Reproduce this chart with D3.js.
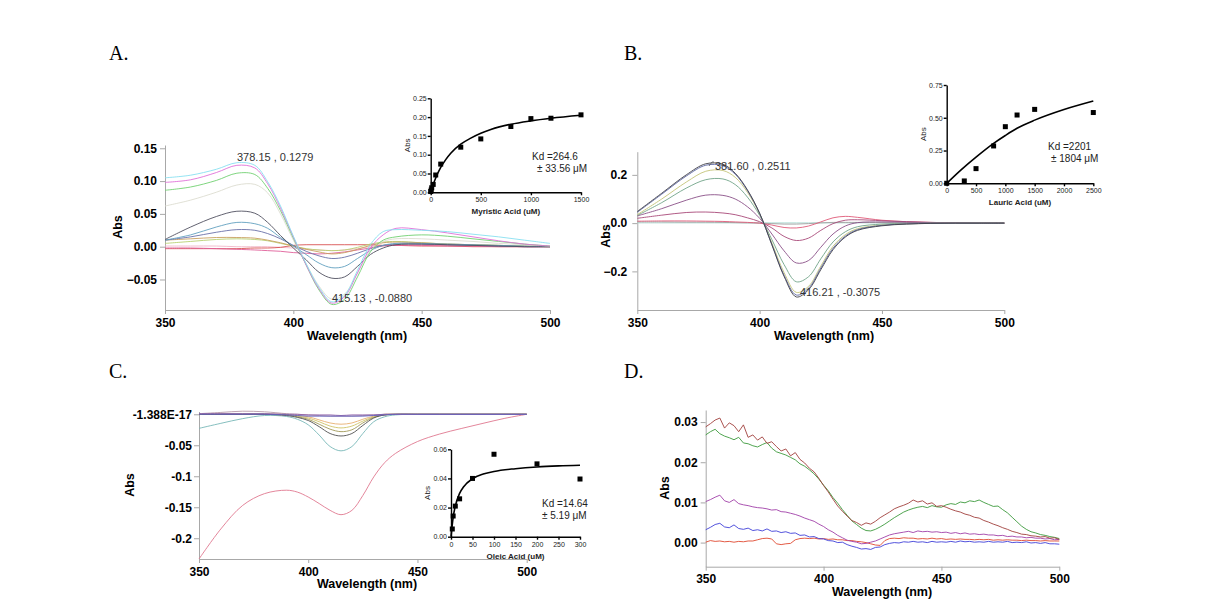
<!DOCTYPE html>
<html><head><meta charset="utf-8">
<script src="https://cdn.jsdelivr.net/npm/d3@7"></script>
<style>
body{margin:0;background:#fff;}
svg text{font-family:"Liberation Sans",Arial,sans-serif;}
</style></head>
<body>
<svg id="c" width="1218" height="616"></svg>
<script>
// ---------- DATA ----------
const wlAB = [350,360,370,378,385,390,395,400,405,410,415,420,425,430,435,440,450,460,470,480,490,500];
// Panel A spectra (Myristic acid titration)
const aCyan   = [0.105,0.109,0.118,0.128,0.124,0.099,0.062,0.016,-0.026,-0.062,-0.084,-0.074,-0.036,0.003,0.023,0.026,0.025,0.023,0.019,0.015,0.010,0.005];
const aMagenta= [0.098,0.102,0.113,0.124,0.120,0.096,0.059,0.015,-0.028,-0.064,-0.086,-0.076,-0.040,-0.002,0.018,0.028,0.026,0.021,0.015,0.009,0.004,0.001];
const aGreen  = [0.086,0.091,0.101,0.112,0.110,0.089,0.055,0.013,-0.028,-0.066,-0.088,-0.080,-0.046,-0.008,0.010,0.015,0.018,0.016,0.012,0.008,0.004,0.001];
const aPale   = [0.062,0.071,0.083,0.094,0.095,0.082,0.050,0.010,-0.026,-0.060,-0.080,-0.072,-0.040,-0.006,0.008,0.012,0.012,0.010,0.008,0.005,0.003,0.001];
const aBlack  = [0.011,0.030,0.046,0.054,0.051,0.037,0.017,-0.002,-0.020,-0.039,-0.048,-0.046,-0.030,-0.012,-0.002,0.003,0.004,0.003,0.002,0.001,0.000,0.000];
const aTeal   = [0.010,0.018,0.030,0.037,0.035,0.028,0.014,0.001,-0.012,-0.025,-0.032,-0.030,-0.018,-0.006,0.002,0.005,0.005,0.004,0.003,0.002,0.001,0.000];
const aSlate  = [0.010,0.015,0.022,0.026,0.025,0.020,0.012,0.002,-0.007,-0.014,-0.018,-0.016,-0.010,-0.003,0.002,0.004,0.004,0.003,0.002,0.001,0.000,0.000];
const aOlive  = [0.010,0.012,0.014,0.014,0.013,0.010,0.006,0.001,-0.004,-0.008,-0.011,-0.009,-0.004,0.002,0.006,0.007,0.006,0.004,0.003,0.002,0.001,0.000];
const aYGreen = [0.005,0.008,0.011,0.012,0.011,0.009,0.005,0.001,-0.003,-0.005,-0.006,-0.005,-0.001,0.004,0.007,0.008,0.006,0.004,0.003,0.002,0.001,0.000];
const aPink   = [-0.002,-0.002,-0.003,-0.004,-0.005,-0.006,-0.007,-0.009,-0.010,-0.011,-0.010,-0.008,-0.005,-0.002,0.001,0.002,0.002,0.001,0.001,0.000,0.000,0.000];
const aRed    = [-0.003,-0.003,-0.003,-0.003,-0.002,-0.002,-0.001,0.002,0.003,0.003,0.003,0.003,0.003,0.003,0.002,0.002,0.001,0.001,0.000,0.000,0.000,0.000];
const aLtPink = [0.001,0.001,0.001,0.000,0.000,0.000,-0.001,-0.002,-0.004,-0.005,-0.006,-0.005,-0.003,0.000,0.002,0.003,0.003,0.002,0.001,0.001,0.000,0.000];
// Panel A inset (Myristic acid binding)
const myrX   = [0,5,10,25,50,100,300,500,800,1000,1200,1500];
const myrAbs = [0.002,0.006,0.012,0.021,0.046,0.075,0.120,0.142,0.175,0.196,0.197,0.206];
const myrFitX = [0,25,50,100,150,200,300,400,500,600,800,1000,1200,1500];
const myrFitY = [0,0.021,0.038,0.066,0.087,0.104,0.128,0.144,0.157,0.167,0.181,0.190,0.197,0.205];

// Panel B spectra (Lauric acid titration)
const bBlack  = [0.048,0.124,0.200,0.246,0.244,0.207,0.138,0.041,-0.090,-0.221,-0.306,-0.276,-0.193,-0.110,-0.058,-0.030,-0.011,-0.004,-0.001,0,0,0];
const bBlue   = [0.045,0.120,0.195,0.240,0.238,0.203,0.135,0.040,-0.088,-0.216,-0.298,-0.270,-0.186,-0.104,-0.054,-0.027,-0.009,-0.003,-0.001,0,0,0];
const bYellow = [0.035,0.100,0.170,0.215,0.218,0.190,0.128,0.038,-0.082,-0.205,-0.287,-0.262,-0.178,-0.096,-0.048,-0.023,-0.008,-0.003,-0.001,0,0,0];
const bGreen  = [0.032,0.085,0.145,0.180,0.183,0.160,0.108,0.032,-0.068,-0.172,-0.243,-0.222,-0.148,-0.078,-0.036,-0.015,-0.004,-0.001,0,0,0,0];
const bPurple = [0.030,0.060,0.095,0.116,0.115,0.100,0.068,0.020,-0.045,-0.115,-0.165,-0.155,-0.100,-0.045,-0.012,0.002,0.005,0.004,0.002,0.001,0,0];
const bMagenta= [0.020,0.033,0.044,0.046,0.042,0.035,0.022,0.006,-0.020,-0.055,-0.072,-0.062,-0.030,-0.002,0.012,0.014,0.010,0.006,0.003,0.001,0,0];
const bRed    = [0.008,0.009,0.009,0.008,0.007,0.005,0.003,0.000,-0.008,-0.018,-0.020,-0.012,0.005,0.022,0.028,0.024,0.012,0.006,0.003,0.001,0,0];
const bGray   = [0.005,0.005,0.004,0.004,0.003,0.002,0.001,0.000,-0.002,-0.004,-0.004,-0.002,0.001,0.003,0.003,0.003,0.002,0.001,0.001,0,0,0];
const bCyan   = [0.001,0.001,0.001,0.001,0.001,0.001,0.001,0.001,0.001,0.001,0.001,0.001,0.001,0.001,0.001,0.001,0.001,0.001,0.001,0.001,0.001,0.001];
// Panel B inset (Lauric acid binding)
const lauX   = [0,300,500,800,1000,1200,1500,2500];
const lauAbs = [0,0.018,0.112,0.285,0.432,0.521,0.564,0.540];
const lauFitX = [0,250,500,800,1000,1200,1500,2000,2500];
const lauFitY = [0,0.105,0.200,0.305,0.365,0.420,0.482,0.563,0.628];

// Panel C spectra (Oleic acid titration)
const wlC = [350,360,370,380,390,395,400,405,410,415,420,425,430,435,440,450,460,470,480,490,500];
const cRed    = [-0.2335,-0.185,-0.147,-0.128,-0.1225,-0.1255,-0.1335,-0.144,-0.155,-0.162,-0.155,-0.131,-0.101,-0.078,-0.063,-0.044,-0.032,-0.023,-0.0146,-0.0065,0];
const cTeal   = [-0.0227,-0.0146,-0.007,-0.002,-0.0035,-0.008,-0.017,-0.0335,-0.052,-0.059,-0.052,-0.031,-0.012,-0.004,-0.001,0,0,0,0,0,0];
const cBlack  = [0,0,0,0,-0.002,-0.005,-0.010,-0.020,-0.031,-0.035,-0.031,-0.018,-0.006,-0.001,0,0,0,0,0,0,0];
const cOlive  = [0,0,0,0,-0.001,-0.004,-0.008,-0.016,-0.024,-0.028,-0.025,-0.014,-0.005,-0.001,0,0,0,0,0,0,0];
const cYellow = [0,0,0,0,-0.001,-0.003,-0.006,-0.012,-0.019,-0.022,-0.019,-0.011,-0.004,-0.001,0,0,0,0,0,0,0];
const cOrange = [0,0,0,0,0,-0.002,-0.004,-0.009,-0.014,-0.016,-0.014,-0.008,-0.003,0,0,0,0,0,0,0,0];
const cPink   = [0.001,0.003,0.005,0.004,0.001,0.000,-0.001,-0.002,-0.003,-0.003,-0.003,-0.002,-0.001,0,0,0,0,0,0,0,0];
const cBlue   = [0,0,0,0,-0.001,-0.002,-0.003,-0.003,-0.003,-0.003,-0.003,-0.003,-0.002,-0.001,0,0,0,0,0,0,0];
const cPurple = [0.001,0.001,0.001,0.001,0,0,-0.001,-0.001,-0.001,-0.002,-0.001,-0.001,-0.001,0,0,0,0,0,0,0,0];
// Panel C inset (Oleic acid binding)
const oleX   = [3,5,10,20,50,100,200,300];
const oleAbs = [0.0053,0.0142,0.021,0.026,0.040,0.0566,0.050,0.0396];
const oleFitX = [0,5,10,20,30,50,75,100,150,200,250,300];
const oleFitY = [0,0.0133,0.021,0.0297,0.0345,0.0398,0.043,0.0448,0.0467,0.0479,0.0486,0.049];

// Panel D spectra (noisy, 2 nm sampling 350..500)
const wlD = d3.range(350, 501, 2);
const dMaroon = [.0288,.0296,.0305,.0310,.0285,.0298,.0291,.0276,.0293,.0262,
 .0268,.0255,.0263,.0247,.0251,.0239,.0228,.0233,.0216,.0224,
 .0207,.0198,.0185,.0176,.0160,.0142,.0126,.0108,.0091,.0078,
 .0066,.0055,.0050,.0043,.0049,.0046,.0053,.0062,.0069,.0076,
 .0084,.0089,.0093,.0098,.0106,.0101,.0104,.0096,.0099,.0090,
 .0092,.0088,.0083,.0079,.0076,.0071,.0068,.0063,.0061,.0055,
 .0051,.0046,.0042,.0037,.0033,.0028,.0025,.0021,.0020,.0017,
 .0016,.0014,.0015,.0011,.0012,.0008];
const dGreen = [.0268,.0276,.0282,.0271,.0265,.0261,.0256,.0262,.0248,.0246,
 .0241,.0238,.0244,.0249,.0235,.0226,.0222,.0218,.0212,.0206,
 .0196,.0190,.0181,.0171,.0158,.0143,.0129,.0112,.0098,.0082,
 .0068,.0054,.0045,.0036,.0030,.0029,.0033,.0039,.0046,.0054,
 .0062,.0069,.0076,.0081,.0085,.0088,.0090,.0087,.0092,.0089,
 .0088,.0094,.0097,.0095,.0101,.0099,.0104,.0102,.0106,.0100,
 .0095,.0090,.0091,.0082,.0074,.0063,.0052,.0041,.0033,.0027,
 .0024,.0020,.0018,.0015,.0013,.0010];
const dPurple = [.0102,.0107,.0113,.0118,.0104,.0100,.0107,.0097,.0094,.0092,
 .0089,.0087,.0086,.0084,.0081,.0082,.0077,.0076,.0073,.0070,
 .0066,.0061,.0057,.0053,.0046,.0040,.0032,.0026,.0018,.0012,
 .0006,.0003,.0001,-.0003,-.0002,.0001,.0004,.0009,.0014,.0019,
 .0022,.0024,.0026,.0028,.0025,.0029,.0027,.0028,.0026,.0027,
 .0025,.0026,.0023,.0025,.0022,.0024,.0021,.0022,.0020,.0021,
 .0019,.0019,.0017,.0018,.0015,.0016,.0014,.0014,.0012,.0013,
 .0011,.0011,.0009,.0010,.0007,.0008];
const dBlue = [.0032,.0038,.0045,.0048,.0039,.0037,.0044,.0035,.0033,.0036,
 .0030,.0032,.0029,.0034,.0028,.0029,.0025,.0027,.0023,.0024,
 .0018,.0019,.0014,.0015,.0010,.0009,.0005,.0004,.0000,.0001,
 -.0005,-.0009,-.0012,-.0016,-.0015,-.0017,-.0012,-.0011,-.0005,-.0002,
 .0000,-.0001,.0002,.0001,.0003,.0001,.0002,.0000,.0003,.0001,
 .0002,.0001,.0003,.0001,.0004,.0002,.0003,.0001,.0002,.0001,
 .0003,.0001,.0002,.0001,.0003,.0000,.0001,.0000,.0002,-.0001,
 .0000,-.0002,.0000,-.0003,-.0003,-.0004];
const dRed = [.0001,.0005,.0003,.0004,.0002,.0003,.0001,.0003,.0002,.0004,
 .0004,.0007,.0010,.0011,.0009,-.0003,-.0005,-.0003,-.0002,.0007,
 .0010,.0011,.0010,.0011,.0009,.0010,.0008,.0009,.0007,.0007,
 .0005,.0005,.0003,.0002,.0000,-.0003,-.0006,-.0007,.0005,.0010,
 .0011,.0010,.0012,.0011,.0011,.0009,.0010,.0009,.0011,.0009,
 .0010,.0008,.0009,.0008,.0009,.0008,.0008,.0007,.0008,.0007,
 .0008,.0006,.0007,.0006,.0007,.0006,.0006,.0005,.0006,.0005,
 .0005,.0004,.0005,.0004,.0004,.0004];

// Tick labels
const wlTicks = [350,400,450,500];
const aYTicks = [-0.05,0,0.05,0.10,0.15];
const bYTicks = [-0.2,0,0.2];
const cYTicks = [0,-0.05,-0.1,-0.15,-0.2];
const cYLabels = ["-1.388E-17","-0.05","-0.1","-0.15","-0.2"];
const dYTicks = [0,0.01,0.02,0.03];

// ---------- DRAWING ----------
const svg = d3.select("#c");
const AXC = "#a8a8a8";

function mainAxes(o){
  const x = d3.scaleLinear().domain([350,500]).range(o.xr);
  const y = d3.scaleLinear().domain(o.yd).range(o.yr);
  const g = svg.append("g");
  const xa = g.append("g").attr("transform",`translate(0,${o.yr[0]})`)
    .call(d3.axisBottom(x).tickValues(wlTicks).tickSize(4).tickPadding(4).tickSizeOuter(0));
  const ya = g.append("g").attr("transform",`translate(${o.xr[0]},0)`)
    .call(d3.axisLeft(y).tickValues(o.yt).tickFormat(o.yf).tickSize(5).tickPadding(o.yp||3).tickSizeOuter(0));
  [xa,ya].forEach(a=>{
    a.selectAll("path,line").attr("stroke",AXC).attr("stroke-width",1);
    a.selectAll("text").attr("fill","#000").style("font-size","12px").style("font-weight","bold");
  });
  g.append("text").attr("x",o.xl[0]).attr("y",o.xl[1]).attr("text-anchor","middle")
    .style("font-size","12.5px").style("font-weight","bold").text("Wavelength (nm)");
  g.append("text").attr("transform",`translate(${o.yl[0]},${o.yl[1]}) rotate(-90)`).attr("text-anchor","middle")
    .style("font-size","12.5px").style("font-weight","bold").text("Abs");
  return {x,y,g};
}
function drawLines(p, wl, series, curve){
  const line = d3.line().x((d,i)=>p.x(wl[i])).y(d=>p.y(d)).curve(curve||d3.curveCatmullRom);
  series.forEach(s=>{
    p.g.append("path").attr("d",line(s[0])).attr("fill","none").attr("stroke",s[1]).attr("stroke-width",s[2]||0.9);
  });
}
function inset(o){
  const x = d3.scaleLinear().domain(o.xd).range(o.xr);
  const y = d3.scaleLinear().domain(o.yd).range(o.yr);
  const g = svg.append("g");
  const xa = g.append("g").attr("transform",`translate(0,${o.yr[0]})`)
    .call(d3.axisBottom(x).tickValues(o.xt).tickFormat(d3.format("d")).tickSize(3).tickPadding(2).tickSizeOuter(0));
  const ya = g.append("g").attr("transform",`translate(${o.xr[0]},0)`)
    .call(d3.axisLeft(y).tickValues(o.yt).tickFormat(d3.format(".2f")).tickSize(3).tickPadding(1).tickSizeOuter(0));
  [xa,ya].forEach(a=>{
    a.selectAll("path,line").attr("stroke","#000").attr("stroke-width",1.4);
    a.selectAll("text").attr("fill","#222").style("font-size","7px");
  });
  g.append("text").attr("x",(o.xr[0]+o.xr[1])/2).attr("y",o.yr[0]+22).attr("text-anchor","middle")
    .style("font-size","8px").style("font-weight","bold").attr("fill","#222").text(o.xlab);
  g.append("text").attr("transform",`translate(${o.xr[0]-21},${(o.yr[0]+o.yr[1])/2}) rotate(-90)`).attr("text-anchor","middle")
    .style("font-size","8px").attr("fill","#222").text("Abs");
  const fit = d3.line().x((d,i)=>x(o.fx[i])).y(d=>y(d)).curve(d3.curveMonotoneX);
  g.append("path").attr("d",fit(o.fy)).attr("fill","none").attr("stroke","#000").attr("stroke-width",1.6);
  g.selectAll("rect.pt").data(o.py).enter().append("rect")
    .attr("x",(d,i)=>x(o.px[i])-2.5).attr("y",d=>y(d)-2.5).attr("width",5).attr("height",5).attr("fill","#000");
  g.append("text").attr("x",o.kd[0]).attr("y",o.kd[1]).style("font-size","10px").attr("fill","#222").text(o.kd[2]);
  g.append("text").attr("x",o.kd[3]).attr("y",o.kd[1]+12).style("font-size","10px").attr("fill","#222").text(o.kd[4]);
}
function letter(t,x,y){
  svg.append("text").attr("x",x).attr("y",y).style("font-family","'Liberation Serif','DejaVu Serif',serif")
    .style("font-size","20px").attr("fill","#000").text(t);
}

// ----- Panel A -----
letter("A.",109,60);
const pA = mainAxes({xr:[165,550], yd:[-0.0965,0.155], yr:[310,145], yt:aYTicks, yf:d3.format(".2f"),
  xl:[357,340], yl:[122,227]});
drawLines(pA, wlAB, [
  [aLtPink,"#f2b8c8"],[aRed,"#d85050"],[aPink,"#e0609a"],[aYGreen,"#b8d070"],[aOlive,"#c8a060"],
  [aSlate,"#6a70a8"],[aTeal,"#62a0c0"],[aBlack,"#505060"],[aPale,"#dcdcd0"],[aGreen,"#70d070"],
  [aMagenta,"#e070d8"],[aCyan,"#88e0f0"]]);
pA.g.append("text").attr("x",237).attr("y",161).style("font-size","11px").attr("fill","#333").text("378.15 , 0.1279");
pA.g.append("text").attr("x",332).attr("y",302).style("font-size","11px").attr("fill","#333").text("415.13 , -0.0880");
inset({xd:[0,1500], xr:[430.7,581], yd:[0,0.25], yr:[192.3,98.3], xt:[0,500,1000,1500], yt:[0,0.05,0.10,0.15,0.20,0.25],
  xlab:"Myristic Acid (uM)", fx:myrFitX, fy:myrFitY, px:myrX, py:myrAbs, kd:[532,160,"Kd =264.6",537,"± 33.56 μM"]});

// ----- Panel B -----
letter("B.",624,60);
const pB = mainAxes({xr:[637.3,1004.3], yd:[-0.36,0.296], yr:[310,151.7], yt:bYTicks, yf:d3.format(".1f"), yp:5,
  xl:[824,340], yl:[610,236]});
drawLines(pB, wlAB, [
  [bCyan,"#a8d8d0"],[bGray,"#a0a0a0"],[bRed,"#e05a78"],[bMagenta,"#a84878"],[bPurple,"#8a5088"],
  [bGreen,"#70a488"],[bYellow,"#c4c478"],[bBlue,"#5a64a0"],[bBlack,"#404048"]]);
pB.g.append("path").attr("d","M709,166 L712,162 L714,162").attr("stroke","#555").attr("fill","none").attr("stroke-width",0.8);
pB.g.append("text").attr("x",715).attr("y",170).style("font-size","11px").attr("fill","#333").text("381.60 , 0.2511");
pB.g.append("text").attr("x",800).attr("y",296).style("font-size","11px").attr("fill","#333").text("416.21 , -0.3075");
inset({xd:[0,2500], xr:[946.7,1093.3], yd:[0,0.75], yr:[183.3,85], xt:[0,500,1000,1500,2000,2500], yt:[0,0.25,0.50,0.75],
  xlab:"Lauric Acid (uM)", fx:lauFitX, fy:lauFitY, px:lauX, py:lauAbs, kd:[1048,150,"Kd =2201",1051,"± 1804 μM"]});

// ----- Panel C -----
letter("C.",109,378);
const pC = mainAxes({xr:[199,526.7], yd:[-0.2335,0.0045], yr:[559,411.5], yt:cYTicks, yf:(d,i)=>cYLabels[i], yp:2,
  xl:[367,588], yl:[134,485]});
drawLines(pC, wlC, [
  [cRed,"#e07890"],[cTeal,"#78b8b8"],[cOrange,"#e8b070"],[cYellow,"#d0c468"],[cOlive,"#a09858"],
  [cBlack,"#505050"],[cPink,"#b898a8"],[cPurple,"#9060a8"],[cBlue,"#6060c0"]]);
inset({xd:[0,300], xr:[451,580], yd:[0,0.06], yr:[536.7,449.3], xt:[0,50,100,150,200,250,300], yt:[0,0.02,0.04,0.06],
  xlab:"Oleic Acid (uM)", fx:oleFitX, fy:oleFitY, px:oleX, py:oleAbs, kd:[542,507,"Kd =14.64",542,"± 5.19 μM"]});

// ----- Panel D -----
letter("D.",624,378);
const pD = mainAxes({xr:[705.7,1059.3], yd:[-0.006,0.033], yr:[566.7,410], yt:dYTicks, yf:d3.format(".2f"), yp:3,
  xl:[882,596], yl:[669,488]});
drawLines(pD, wlD, [
  [dRed,"#e04830"],[dBlue,"#4040d8"],[dPurple,"#a040a8"],[dGreen,"#3c9a3c"],[dMaroon,"#a0403c"]], d3.curveLinear);
</script>
</body></html>
